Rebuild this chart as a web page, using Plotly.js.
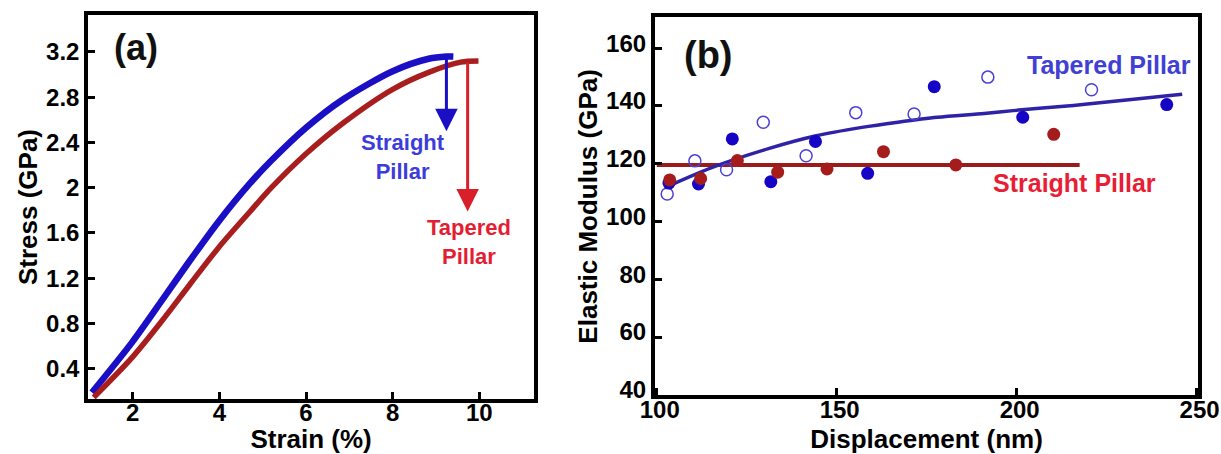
<!DOCTYPE html>
<html>
<head>
<meta charset="utf-8">
<script src="https://cdn.plot.ly/plotly-3.0.1.min.js"></script>
<style>
html,body{margin:0;padding:0;background:#fff;}
#chart{width:1221px;height:454px;}
</style>
</head>
<body>
<div id="chart"></div>
<script>
// ---------- Panel (a): stress-strain curves ----------
const strainStraight = [1.06, 1.99, 2.65, 3.31, 3.98, 4.71, 5.20, 6.00, 6.85, 8.00, 8.83, 9.24, 9.40];
const stressStraight = [0.19, 0.635, 0.99, 1.35, 1.70, 2.04, 2.24, 2.53, 2.78, 3.03, 3.14, 3.16, 3.16];
const strainTapered = [1.10, 1.99, 2.65, 3.31, 3.98, 4.71, 5.20, 6.00, 6.85, 8.00, 8.83, 9.57, 9.98];
const stressTapered = [0.146, 0.50, 0.81, 1.14, 1.47, 1.79, 2.00, 2.30, 2.57, 2.87, 3.02, 3.11, 3.12];
// fracture drops (strain, stress before, stress after)
const dropStraight = {x: 9.24, from: 3.16, to: 2.50};
const dropTapered  = {x: 9.73, from: 3.12, to: 1.79};
const strainTicks = [2, 4, 6, 8, 10];
const stressTicks = [0.4, 0.8, 1.2, 1.6, 2.0, 2.4, 2.8, 3.2];
const stressTickText = ["0.4", "0.8", "1.2", "1.6", "2", "2.4", "2.8", "3.2"];

// ---------- Panel (b): elastic modulus vs displacement ----------
const dispTaperedOpen = [102.9, 110.6, 119.4, 129.6, 141.5, 155.3, 171.5, 192.0, 220.8];
const modTaperedOpen  = [109.5, 121.0, 117.9, 134.4, 122.8, 137.7, 137.2, 150.0, 145.6];
const dispTaperedFill = [103.4, 111.6, 121.0, 131.7, 144.1, 158.6, 177.1, 201.7, 241.7];
const modTaperedFill  = [113.3, 113.0, 128.6, 113.8, 127.7, 116.7, 146.7, 136.1, 140.5];
const dispStraight    = [103.6, 112.2, 122.4, 133.6, 147.3, 163.0, 183.1, 210.3];
const modStraight     = [114.4, 114.9, 121.1, 117.1, 118.2, 124.2, 119.6, 130.2];
const fitTaperedX = [104, 116, 131.5, 144, 157, 167, 178, 191, 199, 214, 219, 246];
const fitTaperedY = [112.7, 119.0, 125.4, 129.6, 132.6, 134.4, 136.1, 137.4, 138.4, 140.0, 140.6, 144.1];
const fitStraightX = [100, 217.5];
const fitStraightY = [119.6, 119.6];
const dispTicks = [100, 150, 200, 250];
const modTicks = [40, 60, 80, 100, 120, 140, 160];

const FONT = "Liberation Sans, Arial, Helvetica, sans-serif";
const C_BLUE = "#1a0fc4";
const C_DRED = "#a81e1e";
const C_RED = "#d81f2a";

const traces = [
  {x: strainStraight, y: stressStraight, xaxis: "x", yaxis: "y", mode: "lines",
   line: {color: C_BLUE, width: 6.5, shape: "spline", smoothing: 0.8}, hoverinfo: "skip"},
  {x: strainTapered, y: stressTapered, xaxis: "x", yaxis: "y", mode: "lines",
   line: {color: C_DRED, width: 5.5, shape: "spline", smoothing: 0.8}, hoverinfo: "skip"},

  {x: fitStraightX, y: fitStraightY, xaxis: "x2", yaxis: "y2", mode: "lines",
   line: {color: "#9a1b1b", width: 4}, hoverinfo: "skip"},
  {x: fitTaperedX, y: fitTaperedY, xaxis: "x2", yaxis: "y2", mode: "lines",
   line: {color: "#2e22a6", width: 3.5, shape: "spline", smoothing: 0.8}, hoverinfo: "skip"},
  {x: dispTaperedOpen, y: modTaperedOpen, xaxis: "x2", yaxis: "y2", mode: "markers",
   marker: {symbol: "circle-open", size: 12, color: "#4b40d6", line: {width: 1.5}}},
  {x: dispTaperedFill, y: modTaperedFill, xaxis: "x2", yaxis: "y2", mode: "markers",
   marker: {symbol: "circle", size: 13, color: "#1604c6"}},
  {x: dispStraight, y: modStraight, xaxis: "x2", yaxis: "y2", mode: "markers",
   marker: {symbol: "circle", size: 13, color: "#a51c1c"}}
];

const tickFont = {family: FONT, size: 24, color: "#000", weight: "bold"};
const titleFont = {family: FONT, size: 26, color: "#000", weight: "bold"};
const axisCommon = {
  showline: true, mirror: true, linewidth: 4, linecolor: "#000",
  ticks: "inside", ticklen: 7, tickwidth: 3, tickcolor: "#000",
  showgrid: false, zeroline: false, tickfont: tickFont, fixedrange: true
};

const arrowCommon = {showarrow: true, text: "", arrowhead: 2, arrowsize: 1.5, arrowwidth: 3,
  standoff: 0, startstandoff: 0, axref: "x", ayref: "y", xref: "x", yref: "y"};

const annotations = [
  Object.assign({}, arrowCommon, {x: dropStraight.x, y: dropStraight.to, ax: dropStraight.x, ay: dropStraight.from, arrowcolor: C_BLUE}),
  Object.assign({}, arrowCommon, {x: dropTapered.x, y: dropTapered.to, ax: dropTapered.x, ay: dropTapered.from, arrowcolor: C_RED}),
  {xref: "x", yref: "y", x: 2.08, y: 3.24, text: "(a)", showarrow: false,
   font: {family: FONT, size: 36, color: "#111", weight: "bold"}},
  {xref: "x", yref: "y", x: 8.24, y: 2.27, text: "Straight<br>Pillar", showarrow: false,
   font: {family: FONT, size: 22, color: "#3c3cdc", weight: "bold"}},
  {xref: "x", yref: "y", x: 9.76, y: 1.52, text: "Tapered<br>Pillar", showarrow: false,
   font: {family: FONT, size: 22, color: "#e41e32", weight: "bold"}},
  {xref: "x2", yref: "y2", x: 114.5, y: 157.7, text: "(b)", showarrow: false,
   font: {family: FONT, size: 38, color: "#111", weight: "bold"}},
  {xref: "x2", yref: "y2", x: 225.6, y: 154.2, text: "Tapered Pillar", showarrow: false,
   font: {family: FONT, size: 25, color: "#4040d4", weight: "bold"}},
  {xref: "x2", yref: "y2", x: 216.2, y: 113.4, text: "Straight Pillar", showarrow: false,
   font: {family: FONT, size: 25, color: "#e81e34", weight: "bold"}}
];

// plot area: full width, 399 px tall (bottom margin holds the x titles)
const layout = {
  width: 1221, height: 454,
  margin: {l: 0, r: 0, t: 0, b: 55},
  paper_bgcolor: "#fff", plot_bgcolor: "#fff",
  showlegend: false,
  font: {family: FONT},
  xaxis: Object.assign({}, axisCommon, {
    domain: [0.0723, 0.4373], range: [0.975, 11.26], anchor: "y",
    tickvals: strainTicks, ticklabelstandoff: -11,
    title: {text: "Strain (%)", font: titleFont, standoff: 12}
  }),
  yaxis: Object.assign({}, axisCommon, {
    domain: [0.0, 0.9624], range: [0.132, 3.527], anchor: "x",
    tickvals: stressTicks, ticktext: stressTickText,
    title: {text: "Stress (GPa)", font: titleFont, standoff: 2}
  }),
  xaxis2: Object.assign({}, axisCommon, {
    domain: [0.5364, 0.9812], range: [99.5, 250.4], anchor: "y2",
    tickvals: dispTicks, ticklabelstandoff: -10, ticklabelshift: 3,
    title: {text: "Displacement (nm)", font: titleFont, standoff: 12}
  }),
  yaxis2: Object.assign({}, axisCommon, {
    domain: [0.009, 0.9566], range: [39.8, 170.7], anchor: "x2",
    tickvals: modTicks, ticklabelshift: -5,
    title: {text: "Elastic Modulus (GPa)", font: titleFont, standoff: 2}
  }),
  annotations: annotations
};

Plotly.newPlot("chart", traces, layout, {displayModeBar: false, staticPlot: true});
</script>
</body>
</html>
